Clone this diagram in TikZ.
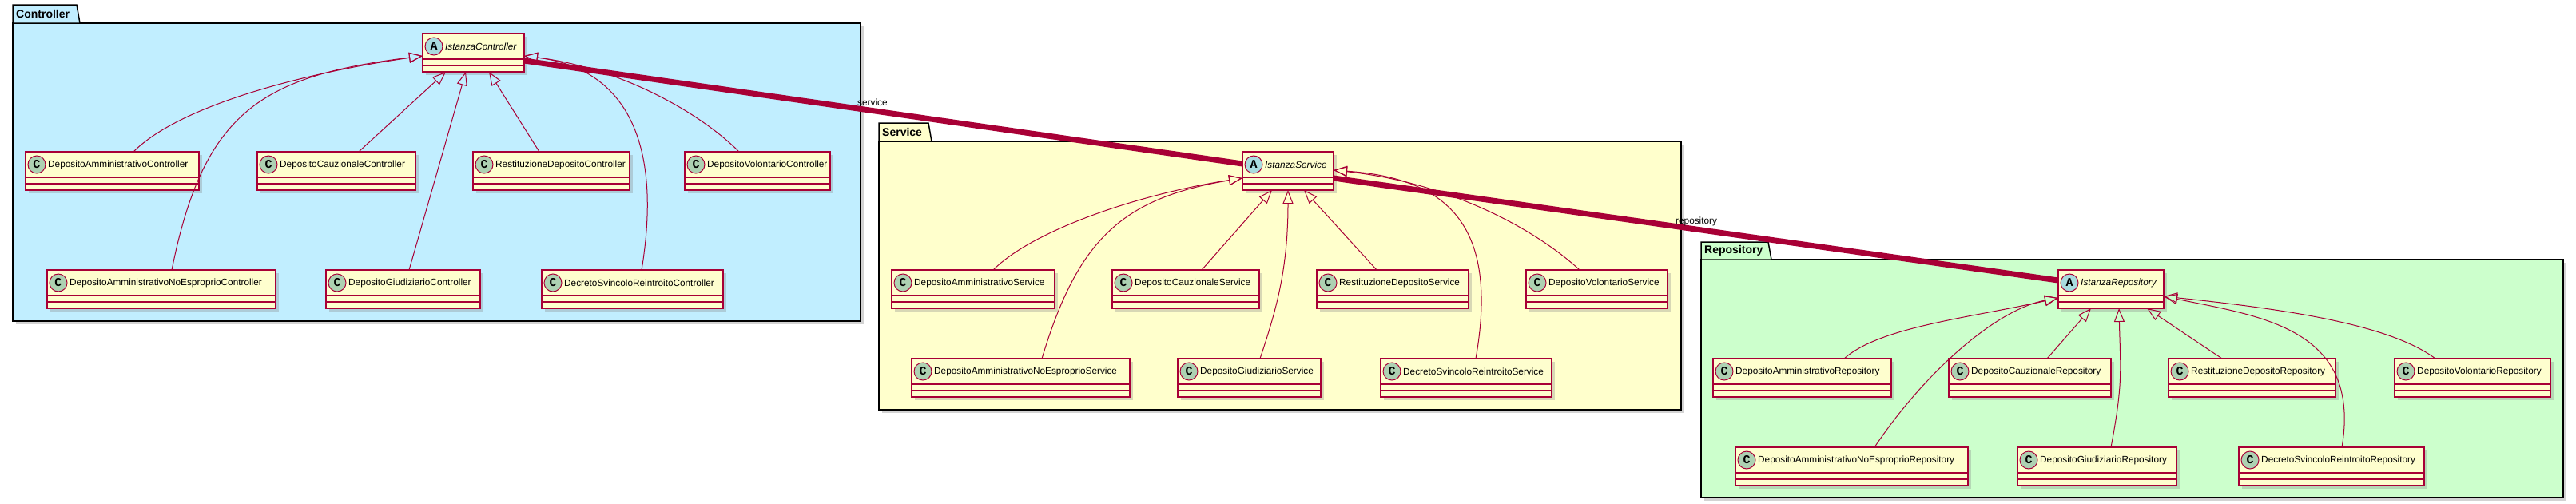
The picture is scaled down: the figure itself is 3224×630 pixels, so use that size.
\documentclass[tikz,border=0pt]{standalone}
\usepackage{fontspec}
\setmainfont{Liberation Sans}
\newfontfamily\letterfont{Liberation Mono}
\usetikzlibrary{arrows.meta,shadows}

\definecolor{umlred}{HTML}{A80036}
\definecolor{umlfill}{HTML}{FEFECE}
\definecolor{Cfill}{HTML}{ADD1B2}
\definecolor{Afill}{HTML}{A9DCDF}
\definecolor{ctrlbg}{HTML}{C1EEFF}
\definecolor{servbg}{HTML}{FFFFCC}
\definecolor{repobg}{HTML}{CCFFCC}

% name, left, top, right, letter, text
\newcommand{\umlclass}[6]{%
  \node[classbox, minimum width={#4-#2}, anchor=north west] (#1) at (#2,#3) {};
  \draw[classline] ([yshift=-32pt]#1.north west) -- ([yshift=-32pt]#1.north east);
  \draw[classline] ([yshift=-40pt]#1.north west) -- ([yshift=-40pt]#1.north east);
  \node[spot, fill=#5fill] at ([xshift=14pt,yshift=-16pt]#1.north west) {#5};
  \node[classname] at ([xshift=28pt,yshift=-16pt]#1.north west) {#6};
}
% label, left, tab top, body top, tab right, right, bottom, colour
\newcommand{\umlpackage}[8]{%
  \draw[pkgline, fill=#8, drop shadow={shadow xshift=4pt,shadow yshift=-4pt,opacity=.35}] (#2,#4) rectangle (#6,#7);
  \draw[pkgline, fill=#8] (#2,#4) -- (#2,#3) -- (#5-4,#3) -- (#5,#4) -- cycle;
  \node[pkgname] at (#2+4,{(#3+#4)/2}) {#1};
}

\begin{document}
\begin{tikzpicture}[x=1pt, y=-1pt,
    classbox/.style={rectangle, draw=umlred, line width=1.5pt, fill=umlfill, inner sep=0pt, outer sep=0pt,
      minimum height=48pt, drop shadow={shadow xshift=4pt,shadow yshift=-4pt,opacity=.3}},
    classline/.style={umlred, line width=1.5pt},
    spot/.style={circle, draw=umlred, line width=1pt, minimum size=22pt, inner sep=0pt,
      font=\letterfont\bfseries\fontsize{15}{15}\selectfont},
    classname/.style={anchor=west, inner sep=0pt, font=\fontsize{11.8}{14}\selectfont},
    pkgline/.style={draw=black, line width=1.5pt},
    pkgname/.style={anchor=west, inner sep=0pt, font=\bfseries\fontsize{14}{16}\selectfont},
    inh/.style={draw=umlred, line width=1pt, -{Triangle[open, length=17pt, width=13pt]}},
    assoc/.style={draw=umlred, line width=7pt},
    lbl/.style={anchor=west, inner sep=0pt, font=\fontsize{11.8}{14}\selectfont}]
  \useasboundingbox (0,0) rectangle (3224,630);

  \umlpackage{Controller}{16}{6}{29}{100}{1077}{402}{ctrlbg}
  \umlpackage{Service}{1100}{154}{177}{1166}{2104}{513}{servbg}
  \umlpackage{Repository}{2129}{303}{325}{2217}{3208}{623}{repobg}

  \umlclass{IC}{529}{42}{656}{A}{\itshape IstanzaController}
  \umlclass{DAC}{32}{190}{249}{C}{DepositoAmministrativoController}
  \umlclass{DCC}{322}{190}{520}{C}{DepositoCauzionaleController}
  \umlclass{RDC}{592}{190}{788}{C}{RestituzioneDepositoController}
  \umlclass{DVC}{857}{190}{1039}{C}{DepositoVolontarioController}
  \umlclass{DANEC}{59}{338}{345}{C}{DepositoAmministrativoNoEsproprioController}
  \umlclass{DGC}{408}{338}{601}{C}{DepositoGiudiziarioController}
  \umlclass{DSRC}{678}{338}{905}{C}{DecretoSvincoloReintroitoController}

  \umlclass{IS}{1555}{190}{1669}{A}{\itshape IstanzaService}
  \umlclass{DAS}{1116}{338}{1320}{C}{DepositoAmministrativoService}
  \umlclass{DCS}{1392}{338}{1576}{C}{DepositoCauzionaleService}
  \umlclass{RDS}{1648}{338}{1838}{C}{RestituzioneDepositoService}
  \umlclass{DVS}{1910}{338}{2087}{C}{DepositoVolontarioService}
  \umlclass{DANES}{1141}{449}{1414}{C}{DepositoAmministrativoNoEsproprioService}
  \umlclass{DGS}{1474}{449}{1653}{C}{DepositoGiudiziarioService}
  \umlclass{DSRS}{1728}{449}{1942}{C}{DecretoSvincoloReintroitoService}

  \umlclass{IR}{2576}{338}{2708}{A}{\itshape IstanzaRepository}
  \umlclass{DAR}{2144}{449}{2367}{C}{DepositoAmministrativoRepository}
  \umlclass{DCR}{2439}{449}{2642}{C}{DepositoCauzionaleRepository}
  \umlclass{RDR}{2714}{449}{2923}{C}{RestituzioneDepositoRepository}
  \umlclass{DVR}{2997}{449}{3192}{C}{DepositoVolontarioRepository}
  \umlclass{DANER}{2172}{560}{2463}{C}{DepositoAmministrativoNoEsproprioRepository}
  \umlclass{DGR}{2525}{560}{2724}{C}{DepositoGiudiziarioRepository}
  \umlclass{DSRR}{2802}{560}{3034}{C}{DecretoSvincoloReintroitoRepository}

  \draw[inh] ([xshift=135pt]DAC.north west) .. controls +(60,-60) and +(-140,20) .. ([yshift=-28pt]IC.north west);
  \draw[inh] ([xshift=156pt]DANEC.north west) .. controls +(40,-200) and +(-200,25) .. ([yshift=-28pt]IC.north west);
  \draw[inh] ([xshift=127pt]DCC.north west) -- ([xshift=29pt]IC.south west);
  \draw[inh] ([xshift=104pt]DGC.north west) -- ([xshift=54pt]IC.south west);
  \draw[inh] ([xshift=83pt]RDC.north west) -- ([xshift=83pt]IC.south west);
  \draw[inh] ([xshift=125pt]DSRC.north west) .. controls +(28,-170) and +(120,15) .. ([yshift=-28pt]IC.north east);
  \draw[inh] ([xshift=68pt]DVC.north west) .. controls +(-50,-50) and +(120,15) .. ([yshift=-28pt]IC.north east);

  \draw[inh] ([xshift=127pt]DAS.north west) .. controls +(50,-50) and +(-130,20) .. ([yshift=-33pt]IS.north west);
  \draw[inh] ([xshift=163pt]DANES.north west) .. controls +(45,-150) and +(-150,25) .. ([yshift=-33pt]IS.north west);
  \draw[inh] ([xshift=112pt]DCS.north west) -- ([xshift=37pt]IS.south west);
  \draw[inh] ([xshift=103pt]DGS.north west) .. controls +(20,-60) and +(0,100) .. ([xshift=57pt]IS.south west);
  \draw[inh] ([xshift=75pt]RDS.north west) -- ([xshift=77pt]IS.south west);
  \draw[inh] ([xshift=119pt]DSRS.north west) .. controls +(30,-170) and +(140,10) .. ([yshift=-23pt]IS.north east);
  \draw[inh] ([xshift=67pt]DVS.north west) .. controls +(-60,-55) and +(140,15) .. ([yshift=-23pt]IS.north east);

  \draw[inh] ([xshift=164pt]DAR.north west) .. controls +(45,-40) and +(-110,25) .. ([yshift=-35pt]IR.north west);
  \draw[inh] ([xshift=174pt]DANER.north west) .. controls +(60,-90) and +(-80,15) .. ([yshift=-35pt]IR.north west);
  \draw[inh] ([xshift=123pt]DCR.north west) -- ([xshift=41pt]IR.south west);
  \draw[inh] ([xshift=117pt]DGR.north west) .. controls +(15,-80) and +(2,80) .. ([xshift=76pt]IR.south west);
  \draw[inh] ([xshift=67pt]RDR.north west) -- ([xshift=111pt]IR.south west);
  \draw[inh] ([xshift=129pt]DSRR.north west) .. controls +(25,-150) and +(120,25) .. ([yshift=-33pt]IR.north east);
  \draw[inh] ([xshift=51pt]DVR.north west) .. controls +(-60,-45) and +(140,15) .. ([yshift=-33pt]IR.north east);

  \draw[assoc] ([yshift=-34pt]IC.north east) -- ([yshift=-15pt]IS.north west);
  \draw[assoc] ([yshift=-33pt]IS.north east) -- ([yshift=-13pt]IR.north west);
  \node[lbl] (servlbl) at (1073,128) {service};
  \node[lbl] (repolbl) at (2097,277) {repository};
\end{tikzpicture}
\end{document}
